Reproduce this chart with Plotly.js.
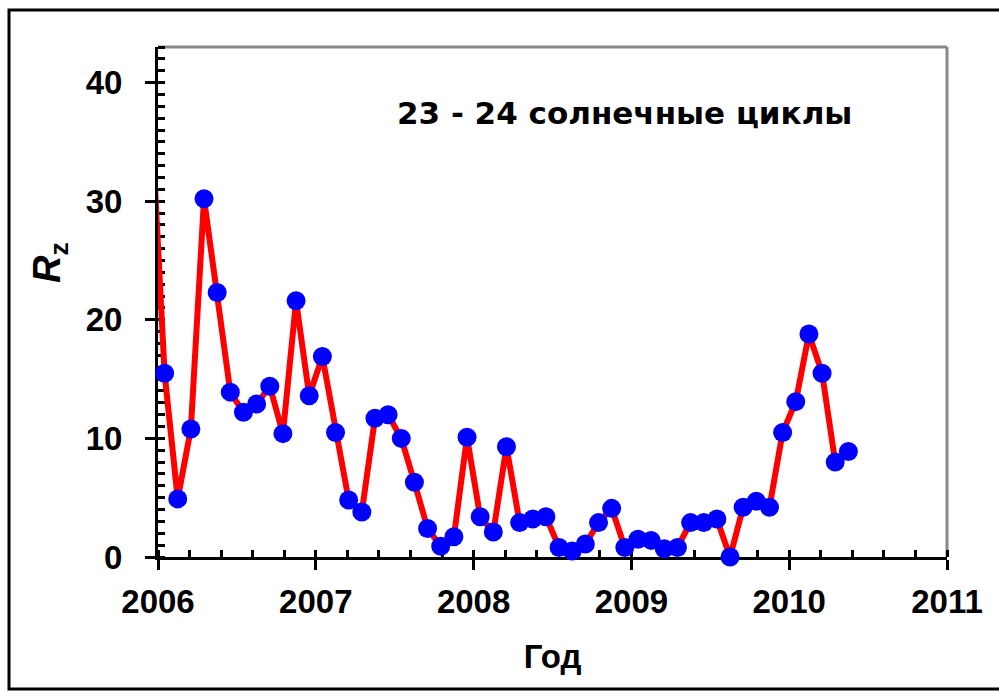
<!DOCTYPE html>
<html>
<head>
<meta charset="utf-8">
<script src="https://cdn.plot.ly/plotly-3.0.1.min.js"></script>
<style>
html,body{margin:0;padding:0;background:#fff;}
#chart{width:999px;height:692px;}
</style>
</head>
<body>
<div id="chart"></div>
<script>
// Monthly sunspot number Rz; first value lies off the chart (line only)
const monthLabels = [
  '2005-12',
  '2006-01','2006-02','2006-03','2006-04','2006-05','2006-06','2006-07','2006-08','2006-09','2006-10','2006-11','2006-12',
  '2007-01','2007-02','2007-03','2007-04','2007-05','2007-06','2007-07','2007-08','2007-09','2007-10','2007-11','2007-12',
  '2008-01','2008-02','2008-03','2008-04','2008-05','2008-06','2008-07','2008-08','2008-09','2008-10','2008-11','2008-12',
  '2009-01','2009-02','2009-03','2009-04','2009-05','2009-06','2009-07','2009-08','2009-09','2009-10','2009-11','2009-12',
  '2010-01','2010-02','2010-03','2010-04','2010-05'
];
const rzValues = [
  37.0,
  15.5, 4.9, 10.8, 30.2, 22.3, 13.9, 12.2, 12.9, 14.4, 10.4, 21.6, 13.6,
  16.9, 10.5, 4.8, 3.8, 11.7, 12.0, 10.0, 6.3, 2.4, 0.9, 1.7, 10.1,
  3.4, 2.1, 9.3, 2.9, 3.2, 3.4, 0.8, 0.5, 1.1, 2.9, 4.1, 0.8,
  1.5, 1.4, 0.7, 0.8, 2.9, 2.9, 3.2, 0.0, 4.2, 4.7, 4.2, 10.5,
  13.1, 18.8, 15.5, 8.0, 8.9
];
const yearTicks = [2006, 2007, 2008, 2009, 2010, 2011];
const yTicks = [0, 10, 20, 30, 40];
const chartTitle = '23 - 24\u00a0солнечные циклы';
const xTitle = 'Год';
const yTitle = '<i>R</i><sub>z</sub>';

// convert "YYYY-MM" to decimal year at the middle of the month
const xVals = monthLabels.map(s => {
  const [y, m] = s.split('-').map(Number);
  return y + (m - 0.5) / 12;
});
const markerX = xVals.slice(1);
const markerY = rzValues.slice(1);

const font = 'Liberation Sans, Arial, sans-serif';
const wideFont = 'DejaVu Sans, Verdana, sans-serif';

const traces = [
  { x: xVals, y: rzValues, type: 'scatter', mode: 'lines',
    line: { color: '#ff0000', width: 6 }, hoverinfo: 'skip', showlegend: false },
  { x: markerX, y: markerY, type: 'scatter', mode: 'markers', cliponaxis: false,
    marker: { color: '#0000ff', size: 19, line: { width: 0 } }, showlegend: false }
];

const W = 999, H = 692, L = 158, R = 52, T = 47, B = 135;
const pw = W - L - R, ph = H - T - B;

const layout = {
  width: W, height: H,
  margin: { l: L, r: R, t: T, b: B, pad: 0 },
  paper_bgcolor: '#ffffff', plot_bgcolor: '#ffffff',
  showlegend: false,
  font: { family: font, color: '#000', size: 30, weight: 'bold' },
  xaxis: {
    range: [2006, 2011], showgrid: false, zeroline: false,
    showline: true, linecolor: '#000', linewidth: 3, layer: 'below traces',
    tickmode: 'array', tickvals: yearTicks, ticktext: yearTicks.map(String),
    ticks: 'outside', ticklen: 10, tickwidth: 3, tickcolor: '#000',
    tickfont: { family: font, size: 33, weight: 'bold', color: '#000' },
    ticklabelstandoff: 3,
    minor: { dtick: 0.2, tick0: 2006, ticks: 'inside', ticklen: 7, tickwidth: 3, tickcolor: '#000', showgrid: false },
    title: { text: xTitle, font: { family: font, size: 33, weight: 'bold', color: '#000' }, standoff: 27 }
  },
  xaxis2: {
    overlaying: 'x', anchor: 'y', side: 'bottom', range: [2006, 2011],
    showgrid: false, zeroline: false, showline: false, layer: 'below traces',
    tickmode: 'array', tickvals: yearTicks, showticklabels: false,
    ticks: 'inside', ticklen: 8, tickwidth: 3, tickcolor: '#000'
  },
  yaxis: {
    range: [0, 43], showgrid: false, zeroline: false,
    showline: true, linecolor: '#000', linewidth: 3, layer: 'below traces',
    tickmode: 'array', tickvals: yTicks, ticktext: yTicks.map(String),
    ticks: 'outside', ticklen: 10, tickwidth: 3, tickcolor: '#000',
    tickfont: { family: font, size: 33, weight: 'bold', color: '#000' },
    ticklabelstandoff: 16,
    minor: { dtick: 1, tick0: 0, ticks: 'inside', ticklen: 7, tickwidth: 3, tickcolor: '#000', showgrid: false }
  },
  yaxis2: {
    overlaying: 'y', anchor: 'x', side: 'left', range: [0, 43],
    showgrid: false, zeroline: false, showline: false, layer: 'below traces',
    tickmode: 'array', tickvals: yTicks, showticklabels: false,
    ticks: 'inside', ticklen: 8, tickwidth: 3, tickcolor: '#000'
  },
  annotations: [
    { xref: 'paper', yref: 'paper', x: (624 - L) / pw, y: (H - B - 113) / ph,
      text: chartTitle, showarrow: false, xanchor: 'center', yanchor: 'middle',
      font: { family: wideFont, size: 31, weight: 'bold', color: '#000' } },
    { xref: 'paper', yref: 'paper', x: (50 - L) / pw, y: (H - B - 263) / ph,
      text: yTitle, showarrow: false, xanchor: 'center', yanchor: 'middle', textangle: -90,
      font: { family: font, size: 38, weight: 'bold', color: '#000' } }
  ],
  shapes: [
    { type: 'line', xref: 'paper', yref: 'paper', x0: 0, x1: 1, y0: 1, y1: 1,
      line: { color: '#888888', width: 3 }, layer: 'below' },
    { type: 'line', xref: 'paper', yref: 'paper', x0: 1, x1: 1, y0: 0, y1: 1,
      line: { color: '#888888', width: 3 }, layer: 'below' },
    { type: 'rect', xref: 'paper', yref: 'paper',
      x0: (9 - L) / pw, x1: (W + 10 - L) / pw, y0: (H - B - 689) / ph, y1: (H - B - 10) / ph,
      line: { color: '#000', width: 3 }, fillcolor: 'rgba(0,0,0,0)', layer: 'below' }
  ]
};

Plotly.newPlot('chart', traces, layout, { displayModeBar: false, staticPlot: true });
</script>
</body>
</html>
